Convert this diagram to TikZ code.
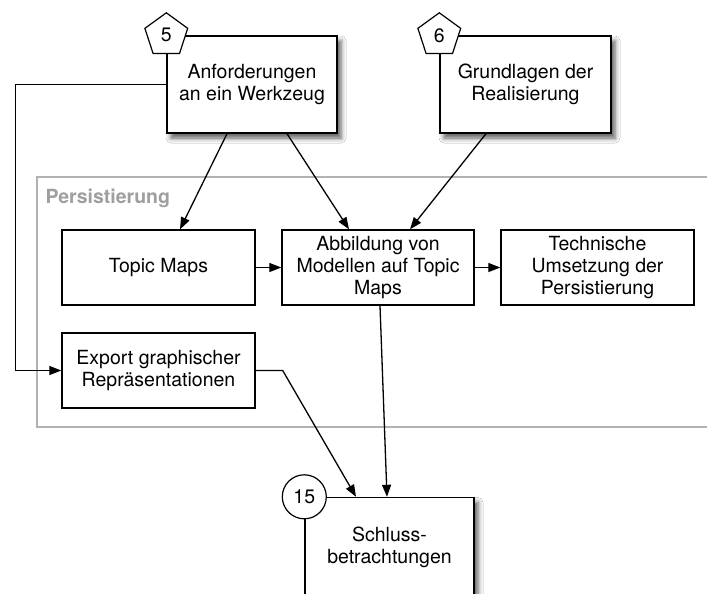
\documentclass[tikz,border=0pt]{standalone}
\usepackage{fontspec}
\setmainfont{TeX Gyre Heros}
\usepackage{tikz}
\usepackage{xcolor}
\usetikzlibrary{arrows.meta,shapes.geometric,shadows.blur}

\begin{document}
\begin{tikzpicture}[x=1pt,y=-1pt,
  font=\fontsize{19.5}{22}\selectfont,
  box/.style={draw,line width=1.4pt,fill=white,align=center,inner sep=2pt},
  bigbox/.style={box,minimum width=170pt,minimum height=97pt,
    blur shadow={shadow xshift=4pt,shadow yshift=-5pt,shadow blur radius=5pt,shadow opacity=65}},
  smallbox/.style={box,minimum width=193pt,minimum height=75pt},
  chapnum/.style={draw,line width=1.2pt,fill=white,regular polygon,regular polygon sides=5,minimum size=45pt,inner sep=0pt},
  endnum/.style={draw,line width=1.2pt,fill=white,circle,minimum size=44pt,inner sep=0pt},
  arr/.style={line width=1.3pt,-{Triangle[length=12pt,width=9pt]}}]
\useasboundingbox[fill=white] (0,0) rectangle (707,594);
% the frame around the persistence chapters
\draw[gray!60,line width=1.5pt] (37,177) rectangle (720,427);
\node[anchor=west,text=gray!75,font=\fontsize{19.5}{22}\selectfont\bfseries] (persist) at (42,198) {Persistierung};
% chapters
\node[bigbox] (anf) at (252,84.5) {Anforderungen\\an ein Werkzeug};
\node[bigbox,minimum width=171pt] (grund) at (525.5,84.5) {Grundlagen der\\Realisierung};
\node[smallbox] (topic) at (158.5,267.5) {Topic Maps};
\node[smallbox,minimum width=192pt] (abb) at (378,267.5) {Abbildung von\\Modellen auf Topic\\Maps};
\node[smallbox] (tech) at (597.5,267.5) {Technische\\Umsetzung der\\Persistierung};
\node[smallbox] (export) at (158.5,370.5) {Export graphischer\\Repräsentationen};
\node[bigbox,minimum width=169pt,minimum height=99pt] (schluss) at (389.5,547) {Schluss-\\betrachtungen};
% numbers on the corners
\node[chapnum] (n5) at (anf.north west) {5};
\node[chapnum] (n6) at (grund.north west) {6};
\node[endnum] (n15) at (schluss.north west) {15};
% connections
\draw[arr] ([xshift=-25pt]anf.south) -- ([xshift=21.5pt]topic.north);
\draw[arr] ([xshift=35pt]anf.south) -- ([xshift=-29pt]abb.north);
\draw[arr] ([xshift=-39.5pt]grund.south) -- ([xshift=32pt]abb.north);
\draw[arr] (topic) -- (abb);
\draw[arr] (abb) -- (tech);
\draw[arr] (anf.west) -- ++(-151,0) |- (export.west);
\draw[arr] ([xshift=2pt]abb.south) -- ([xshift=-2.5pt]schluss.north);
\draw[arr] (export.east) -- ++(27,0) -- ([xshift=-33.5pt]schluss.north);
\end{tikzpicture}
\end{document}
